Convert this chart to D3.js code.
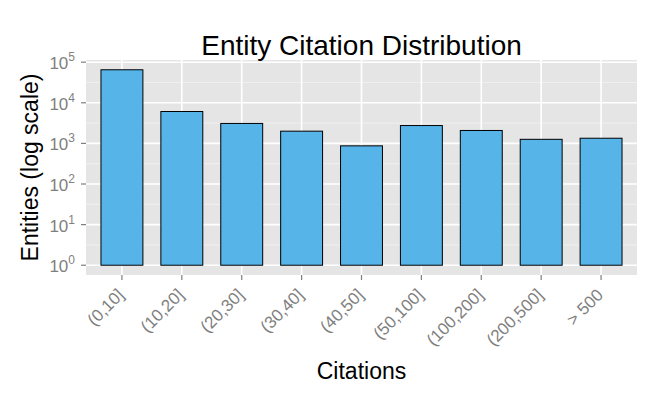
<!DOCTYPE html>
<html>
<head>
<meta charset="utf-8">
<script src="https://cdn.jsdelivr.net/npm/d3@7"></script>
<style>
  body { margin: 0; background: #fff; }
  text { font-family: "Liberation Sans", Arial, Helvetica, sans-serif; }
</style>
</head>
<body>
<div id="chart"></div>
<script>
var categories = ["(0,10]", "(10,20]", "(20,30]", "(30,40]", "(40,50]", "(50,100]", "(100,200]", "(200,500]", "> 500"];
var entities = [65000, 6100, 3100, 2000, 870, 2750, 2080, 1260, 1340];
var yTickExps = [0, 1, 2, 3, 4, 5];

var W = 664, H = 399;
var margin = {top: 60, right: 27, bottom: 124, left: 86},
    width = W - margin.left - margin.right,
    height = H - margin.top - margin.bottom;

var svg = d3.select("#chart").append("svg")
    .attr("width", W)
    .attr("height", H);

var g = svg.append("g")
    .attr("transform", "translate(" + margin.left + "," + margin.top + ")");

// ggplot style expansion: discrete +0.6, continuous 5%
var x = d3.scaleLinear()
    .domain([-0.6, categories.length - 1 + 0.6])
    .range([0, width]);

var lmax = Math.log10(d3.max(entities));
var pad = 0.05 * lmax;
var y = d3.scaleLog()
    .domain([Math.pow(10, -pad), Math.pow(10, lmax + pad)])
    .range([height, 0]);

// panel
g.append("rect")
    .attr("width", width)
    .attr("height", height)
    .attr("fill", "#e5e5e5");

// minor grid
var minor = yTickExps.slice(0, -1).map(function(e) { return Math.pow(10, e + 0.5); });
g.selectAll(".minor")
  .data(minor)
  .enter().append("line")
    .attr("x1", 0).attr("x2", width)
    .attr("y1", function(d) { return y(d); })
    .attr("y2", function(d) { return y(d); })
    .attr("stroke", "#f2f2f2")
    .attr("stroke-width", 0.8);

// major grid
g.selectAll(".hmajor")
  .data(yTickExps)
  .enter().append("line")
    .attr("x1", 0).attr("x2", width)
    .attr("y1", function(d) { return y(Math.pow(10, d)); })
    .attr("y2", function(d) { return y(Math.pow(10, d)); })
    .attr("stroke", "#fff")
    .attr("stroke-width", 1.6);

g.selectAll(".vmajor")
  .data(categories)
  .enter().append("line")
    .attr("x1", function(d, i) { return x(i); })
    .attr("x2", function(d, i) { return x(i); })
    .attr("y1", 0).attr("y2", height)
    .attr("stroke", "#fff")
    .attr("stroke-width", 1.6);

// bars
var bw = x(0.7) - x(0);
g.selectAll(".bar")
  .data(entities)
  .enter().append("rect")
    .attr("class", "bar")
    .attr("x", function(d, i) { return x(i) - bw / 2; })
    .attr("width", bw)
    .attr("y", function(d) { return y(d); })
    .attr("height", function(d) { return y(1) - y(d); })
    .attr("fill", "#56b4e9")
    .attr("stroke", "#000")
    .attr("stroke-width", 1);

// y axis
var yAxis = g.append("g");
yAxis.selectAll("line")
  .data(yTickExps)
  .enter().append("line")
    .attr("x1", -5).attr("x2", 0)
    .attr("y1", function(d) { return y(Math.pow(10, d)); })
    .attr("y2", function(d) { return y(Math.pow(10, d)); })
    .attr("stroke", "#7f7f7f")
    .attr("stroke-width", 1.2);

var yl = yAxis.selectAll("text")
  .data(yTickExps)
  .enter().append("text")
    .attr("x", -11)
    .attr("y", function(d) { return y(Math.pow(10, d)) + 7; })
    .attr("text-anchor", "end")
    .attr("fill", "#7f7f7f")
    .style("font-size", "17px");
yl.append("tspan").text("10");
yl.append("tspan")
    .attr("dy", -8)
    .style("font-size", "12px")
    .text(function(d) { return d; });

// x axis
var xAxis = g.append("g").attr("transform", "translate(0," + height + ")");
xAxis.selectAll("line")
  .data(categories)
  .enter().append("line")
    .attr("x1", function(d, i) { return x(i); })
    .attr("x2", function(d, i) { return x(i); })
    .attr("y1", 0).attr("y2", 5)
    .attr("stroke", "#7f7f7f")
    .attr("stroke-width", 1.2);

xAxis.selectAll("text")
  .data(categories)
  .enter().append("text")
    .attr("transform", function(d, i) {
      return "translate(" + (x(i) - 6) + ",12) rotate(-45)";
    })
    .attr("text-anchor", "end")
    .attr("dy", "0.75em")
    .attr("fill", "#7f7f7f")
    .style("font-size", "17px")
    .text(function(d) { return d; });

// titles
svg.append("text")
    .attr("x", margin.left + width / 2)
    .attr("y", 55)
    .attr("text-anchor", "middle")
    .style("font-size", "28px")
    .text("Entity Citation Distribution");

svg.append("text")
    .attr("x", margin.left + width / 2)
    .attr("y", 379)
    .attr("text-anchor", "middle")
    .style("font-size", "23px")
    .text("Citations");

svg.append("text")
    .attr("transform", "translate(38," + (margin.top + height / 2) + ") rotate(-90)")
    .attr("text-anchor", "middle")
    .style("font-size", "23px")
    .text("Entities (log scale)");
</script>
</body>
</html>
